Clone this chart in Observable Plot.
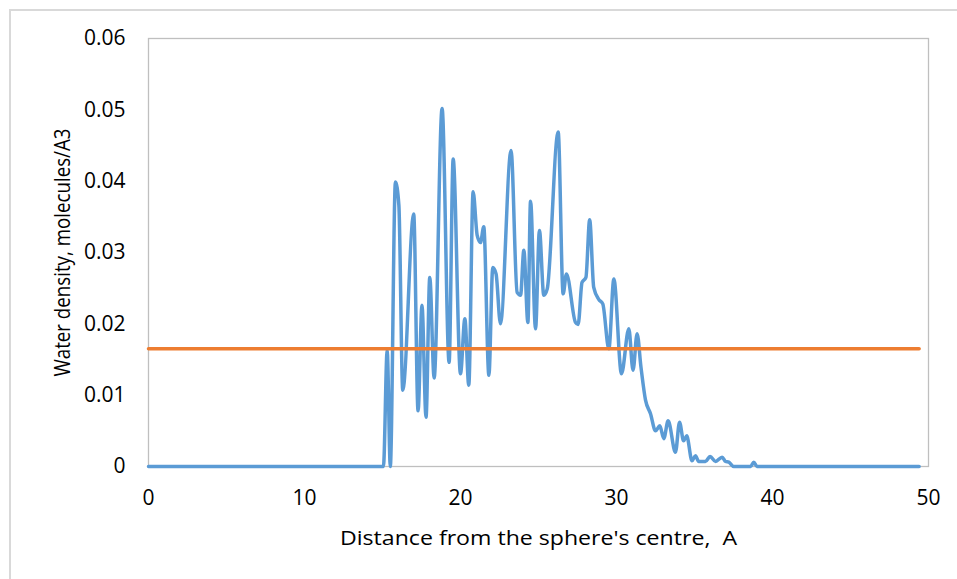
<!DOCTYPE html>
<html>
<head>
<meta charset="utf-8">
<script src="https://cdn.jsdelivr.net/npm/d3@7"></script>
<script src="https://cdn.jsdelivr.net/npm/@observablehq/plot@0.6"></script>
<style>
  html, body { margin: 0; padding: 0; background: #fff; overflow: hidden; }
  #border { position: absolute; left: 9px; top: 9px; width: 3000px; height: 3000px; border: 2px solid #d9d9d9; }
  #chart { position: absolute; left: 0; top: 0; }
</style>
</head>
<body>
<div id="border"></div>
<div id="chart"></div>
<script>
const distance = [0, 15.06, 15.3, 15.5, 15.83, 16.05, 16.3, 17.0, 17.28, 17.53, 17.79, 18.03, 18.31, 18.82, 19.27, 19.53, 20.0, 20.28, 20.53, 20.81, 21.07, 21.28, 21.49, 21.82, 22.07, 22.28, 22.56, 23.24, 23.63, 23.85, 24.06, 24.32, 24.49, 24.81, 25.06, 25.34, 25.56, 26.26, 26.58, 26.79, 27.37, 27.54, 27.79, 28.04, 28.28, 28.54, 28.87, 29.12, 29.51, 29.83, 30.32, 30.79, 31.06, 31.32, 31.57, 31.86, 32.18, 32.5, 32.78, 33.03, 33.31, 33.78, 34.04, 34.3, 34.5, 34.84, 35.06, 35.27, 35.7, 36.0, 36.35, 36.77, 36.99, 37.2, 37.52, 38.6, 38.8, 39.0, 49.4];
const density = [0, 0, 0.0163, 0, 0.0399, 0.0366, 0.0107, 0.0354, 0.0078, 0.0226, 0.0069, 0.0265, 0.0124, 0.0502, 0.0146, 0.0431, 0.0130, 0.0207, 0.0114, 0.0385, 0.0324, 0.0314, 0.0336, 0.0128, 0.0279, 0.0270, 0.0200, 0.0443, 0.0244, 0.0240, 0.0303, 0.0202, 0.0372, 0.0193, 0.0331, 0.0240, 0.0249, 0.0469, 0.0242, 0.0270, 0.0202, 0.0199, 0.0258, 0.0265, 0.0346, 0.0251, 0.0234, 0.0228, 0.0165, 0.0263, 0.0130, 0.0193, 0.0135, 0.0186, 0.0139, 0.0093, 0.0074, 0.0050, 0.0057, 0.0039, 0.0064, 0.0020, 0.0062, 0.0036, 0.0043, 0.0008, 0.0015, 0.0007, 0.0007, 0.0014, 0.0007, 0.0013, 0.0007, 0.0006, 0, 0, 0.0006, 0, 0];
const refDistance = [0, 49.4];
const refDensity = [0.0165, 0.0165];
const xTicks = [0, 10, 20, 30, 40, 50];
const yTicks = [0, 0.01, 0.02, 0.03, 0.04, 0.05, 0.06];
const xTitle = "Distance from the sphere's centre,  A";
const yTitle = "Water density, molecules/A3";

const profile = distance.map((d, i) => ({x: d, y: density[i]}));
const reference = refDistance.map((d, i) => ({x: d, y: refDensity[i]}));

const chart = Plot.plot({
  width: 957,
  height: 579,
  marginLeft: 148,
  marginRight: 29,
  marginTop: 38,
  marginBottom: 113,
  style: {fontFamily: "'Open Sans', sans-serif", fontSize: "20px", color: "#000", background: "transparent"},
  x: {domain: [0, 50], ticks: xTicks},
  y: {domain: [0, 0.06], ticks: yTicks},
  marks: [
    Plot.frame({stroke: "#bfbfbf", strokeWidth: 1.3}),
    Plot.axisY({ticks: yTicks, tickSize: 0, tickPadding: 23, label: null, fontSize: 21,
      tickFormat: d => d === 0 ? "0" : d.toFixed(2)}),
    Plot.axisX({ticks: xTicks, tickSize: 0, tickPadding: 24, label: null, fontSize: 21}),
    Plot.line(profile, {x: "x", y: "y", stroke: "#5B9BD5", strokeWidth: 3.5, curve: "monotone-x"}),
    Plot.line(reference, {x: "x", y: "y", stroke: "#ED7D31", strokeWidth: 3.5}),
    Plot.text([xTitle], {frameAnchor: "bottom", dy: 72, lineAnchor: "middle", textAnchor: "middle", fontSize: 20, fill: "#000", className: "xtitle"}),
    Plot.text([yTitle], {frameAnchor: "left", dx: -85, rotate: -90, lineAnchor: "middle", textAnchor: "middle", fontSize: 21, fill: "#000", className: "ytitle"})
  ]
});
document.getElementById("chart").appendChild(chart);
d3.select(chart).selectAll(".xtitle text").attr("textLength", 397).attr("lengthAdjust", "spacingAndGlyphs");
d3.select(chart).selectAll(".ytitle text").attr("textLength", 248).attr("lengthAdjust", "spacingAndGlyphs");
</script>
</body>
</html>
